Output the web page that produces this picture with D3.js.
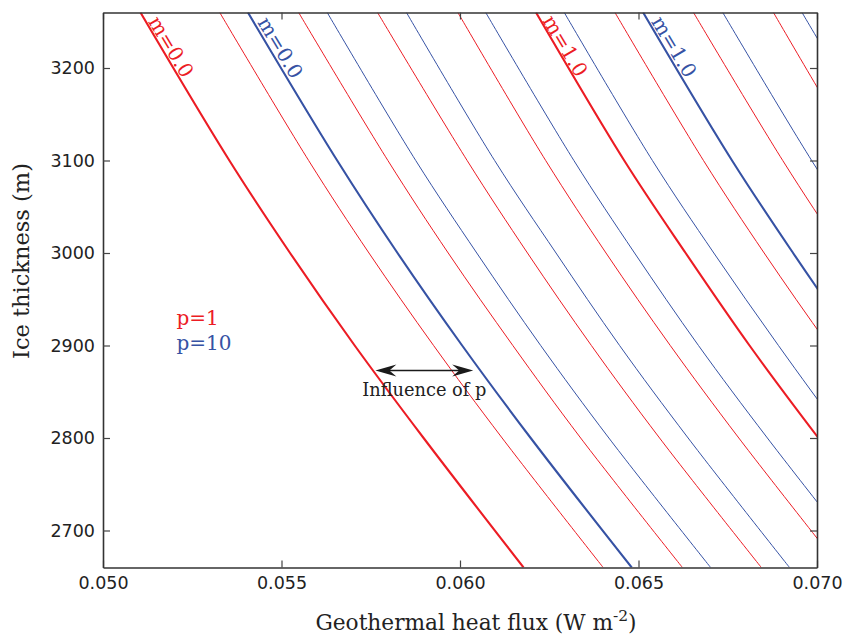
<!DOCTYPE html>
<html>
<head>
<meta charset="utf-8">
<script src="https://cdn.jsdelivr.net/npm/d3@7/dist/d3.min.js"></script>
<style>
  html, body { margin: 0; padding: 0; background: #fff; }
  svg { display: block; }
</style>
</head>
<body>
<svg id="chart" width="846" height="637"></svg>
<script>
// ---------------- data ----------------
// Ice thickness levels (m) at which each curve was read
const thicknessLevels = [3260, 3100, 3000, 2900, 2800, 2660];

// m values of the curves
const mValuesP1  = [0.0, 0.2, 0.4, 0.6, 0.8, 1.0, 1.2, 1.4, 1.6];
const mValuesP10 = [0.0, 0.2, 0.4, 0.6, 0.8, 1.0, 1.2, 1.4];

// Geothermal heat flux (W m-2) for p = 1 (red), one row per m, one column per thickness level
const fluxP1 = [
  [0.05105, 0.05354, 0.05524, 0.05705, 0.05898, 0.06178],
  [0.05327, 0.05576, 0.05745, 0.05926, 0.06118, 0.06401],
  [0.05548, 0.05798, 0.05967, 0.06148, 0.06338, 0.06623],
  [0.05769, 0.06020, 0.06189, 0.06368, 0.06559, 0.06844],
  [0.05994, 0.06240, 0.06409, 0.06589, 0.06781, 0.07065],
  [0.06213, 0.06460, 0.06632, 0.06811, 0.07004, 0.07287],
  [0.06434, 0.06682, 0.06852, 0.07033, 0.07225, 0.07510],
  [0.06654, 0.06904, 0.07074, 0.07255, 0.07445, 0.07730],
  [0.06878, 0.07124, 0.07295, 0.07477, 0.07665, 0.07950]
];

// Geothermal heat flux (W m-2) for p = 10 (blue)
const fluxP10 = [
  [0.05406, 0.05656, 0.05825, 0.06006, 0.06198, 0.06481],
  [0.05628, 0.05876, 0.06047, 0.06226, 0.06417, 0.06702],
  [0.05850, 0.06097, 0.06269, 0.06447, 0.06639, 0.06923],
  [0.06072, 0.06319, 0.06489, 0.06668, 0.06861, 0.07145],
  [0.06292, 0.06539, 0.06711, 0.06892, 0.07082, 0.07366],
  [0.06513, 0.06762, 0.06933, 0.07113, 0.07303, 0.07587],
  [0.06736, 0.06985, 0.07155, 0.07335, 0.07524, 0.07808],
  [0.06958, 0.07207, 0.07377, 0.07557, 0.07745, 0.08030]
];

// axis ticks
const xTicks = [0.050, 0.055, 0.060, 0.065, 0.070];
const yTicks = [2700, 2800, 2900, 3000, 3100, 3200];

// curve labels: [text, series, m index, flux at label centre, thickness at label centre]
const curveLabels = [
  ["m=0.0", "p1", 0, 0.05191, 3223],
  ["m=0.0", "p10", 0, 0.05497, 3222],
  ["m=1.0", "p1", 5, 0.06295, 3224],
  ["m=1.0", "p10", 5, 0.06600, 3223]
];

// legend entries
const legendLabels = ["p=1", "p=10"];
// annotation: arrow between the two m=0 curves
const arrowFlux = [0.05763, 0.06037];
const arrowThickness = 2873;
const annotationText = "Influence of p";

// ---------------- drawing ----------------
const RED = "#ec1c24";
const BLUE = "#3652a4";
const svg = d3.select("#chart");
const L = 103, R = 817, T = 12.5, B = 567.5;

const x = d3.scaleLinear().domain([0.050, 0.070]).range([L, R]);
const y = d3.scaleLinear().domain([2660, 3260]).range([B, T]);

svg.append("defs").append("clipPath").attr("id", "clip")
  .append("rect").attr("x", L).attr("y", T).attr("width", R - L).attr("height", B - T);

const line = d3.line()
  .x(d => x(d[0]))
  .y(d => y(d[1]))
  .curve(d3.curveCatmullRom.alpha(0.5));

const series = [
  { key: "p1", color: RED, ms: mValuesP1, flux: fluxP1 },
  { key: "p10", color: BLUE, ms: mValuesP10, flux: fluxP10 }
];

const plot = svg.append("g").attr("clip-path", "url(#clip)");
series.forEach(s => {
  s.flux.forEach((row, i) => {
    const pts = row.map((f, j) => [f, thicknessLevels[j]]);
    const thick = (s.ms[i] === 0 || s.ms[i] === 1.0);
    plot.append("path")
      .attr("d", line(pts))
      .attr("fill", "none")
      .attr("stroke", s.color)
      .attr("stroke-width", thick ? 2.1 : 1.0);
  });
});

// axes (ticks pointing inward, frame on all sides)
const fmt = d3.format(".3f");
const axB = svg.append("g").attr("transform", `translate(0,${B})`)
  .call(d3.axisBottom(x).tickValues(xTicks).tickFormat(fmt).tickSizeInner(-7).tickSizeOuter(0).tickPadding(9));
const axT = svg.append("g").attr("transform", `translate(0,${T})`)
  .call(d3.axisTop(x).tickValues(xTicks).tickFormat("").tickSizeInner(-7).tickSizeOuter(0));
const axL = svg.append("g").attr("transform", `translate(${L},0)`)
  .call(d3.axisLeft(y).tickValues(yTicks).tickFormat(d3.format("d")).tickSizeInner(-7).tickSizeOuter(0).tickPadding(8));
const axR = svg.append("g").attr("transform", `translate(${R},0)`)
  .call(d3.axisRight(y).tickValues(yTicks).tickFormat("").tickSizeInner(-7).tickSizeOuter(0));

[axB, axT, axL, axR].forEach(a => {
  a.select(".domain").attr("stroke", "#333").attr("stroke-width", 1.6);
  a.selectAll(".tick line").attr("stroke", "#444").attr("stroke-width", 1.2);
  a.selectAll(".tick text")
    .attr("font-family", "DejaVu Sans, sans-serif")
    .attr("font-size", 17.5)
    .attr("fill", "#222");
});

// curve labels, rotated along the curve
curveLabels.forEach(([txt, key, mi, f, t]) => {
  const s = series.find(d => d.key === key);
  const row = s.flux[mi];
  const dx = x(row[1]) - x(row[0]);
  const dy = y(thicknessLevels[1]) - y(thicknessLevels[0]);
  const ang = Math.atan2(dy, dx) * 180 / Math.PI;
  const cx = x(f), cy = y(t);
  svg.append("text")
    .attr("transform", `translate(${cx},${cy}) rotate(${ang})`)
    .attr("text-anchor", "middle")
    .attr("dominant-baseline", "central")
    .attr("font-family", "DejaVu Serif, serif")
    .attr("font-size", 20)
    .attr("fill", s.color)
    .text(txt);
});

// legend
const legColors = [RED, BLUE];
legendLabels.forEach((lab, i) => {
  svg.append("text")
    .attr("x", x(0.05206))
    .attr("y", y(2922) + i * 25)
    .attr("font-family", "DejaVu Serif, serif")
    .attr("font-size", 20)
    .attr("fill", legColors[i])
    .text(lab);
});

// annotation arrow
const ax1 = x(arrowFlux[0]), ax2 = x(arrowFlux[1]), ay = y(arrowThickness);
svg.append("line")
  .attr("x1", ax1 + 12).attr("x2", ax2 - 12).attr("y1", ay).attr("y2", ay)
  .attr("stroke", "#1a1a1a").attr("stroke-width", 1.4);
const head = (tipX, dir) => {
  const p = d3.path();
  p.moveTo(tipX, ay);
  p.lineTo(tipX + dir * 21, ay - 6);
  p.lineTo(tipX + dir * 14, ay);
  p.lineTo(tipX + dir * 21, ay + 6);
  p.closePath();
  return p.toString();
};
svg.append("path").attr("d", head(ax1, 1)).attr("fill", "#1a1a1a");
svg.append("path").attr("d", head(ax2, -1)).attr("fill", "#1a1a1a");
svg.append("text")
  .attr("x", (ax1 + ax2) / 2)
  .attr("y", ay + 26)
  .attr("text-anchor", "middle")
  .attr("font-family", "DejaVu Serif, serif")
  .attr("font-size", 17.8)
  .attr("fill", "#222")
  .text(annotationText);

// axis titles
const xt = svg.append("text")
  .attr("x", 476).attr("y", 630)
  .attr("text-anchor", "middle")
  .attr("font-family", "DejaVu Serif, serif")
  .attr("font-size", 21.7)
  .attr("fill", "#222");
xt.append("tspan").text("Geothermal heat flux (W m");
xt.append("tspan").attr("font-size", 15.5).attr("dy", -9).text("-2");
xt.append("tspan").attr("dy", 9).text(")");

svg.append("text")
  .attr("transform", `translate(29,261) rotate(-90)`)
  .attr("text-anchor", "middle")
  .attr("font-family", "DejaVu Serif, serif")
  .attr("font-size", 22.5)
  .attr("fill", "#222")
  .text("Ice thickness (m)");
</script>
</body>
</html>
